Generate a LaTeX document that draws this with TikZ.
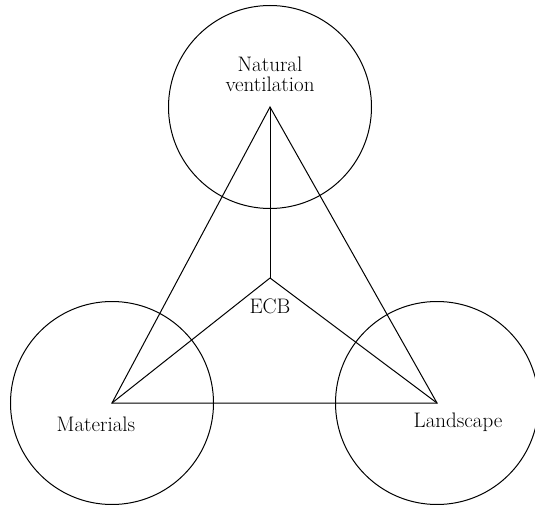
\documentclass[tikz,border=0pt]{standalone}
\usepackage{amsmath,amsfonts}
\usepackage{tikz}

\begin{document}
\begin{tikzpicture}[x=1pt,y=-1pt,line width=1pt,
  factor/.style={draw,circle,minimum size=203pt,inner sep=0pt},
  lbl/.style={font=\fontsize{21}{20}\selectfont,inner sep=0pt,align=center}]
\useasboundingbox (0,0) rectangle (535,505);
\node[factor] (vent) at (270,107) {};
\node[factor] (mat) at (112,403) {};
\node[factor] (land) at (437,403) {};
\coordinate (ecb) at (270,278);
\draw (vent.center) -- (mat.center) -- (land.center) -- cycle;
\draw (ecb) -- (vent.center);
\draw (ecb) -- (mat.center);
\draw (ecb) -- (land.center);
\node[lbl] (ventlbl) at (270,74) {Natural\\ventilation};
\node[lbl] (matlbl) at (96,424) {Materials};
\node[lbl] (landlbl) at (458,422) {Landscape};
\node[lbl] (ecblbl) at (270,306) {ECB};
\end{tikzpicture}
\end{document}
